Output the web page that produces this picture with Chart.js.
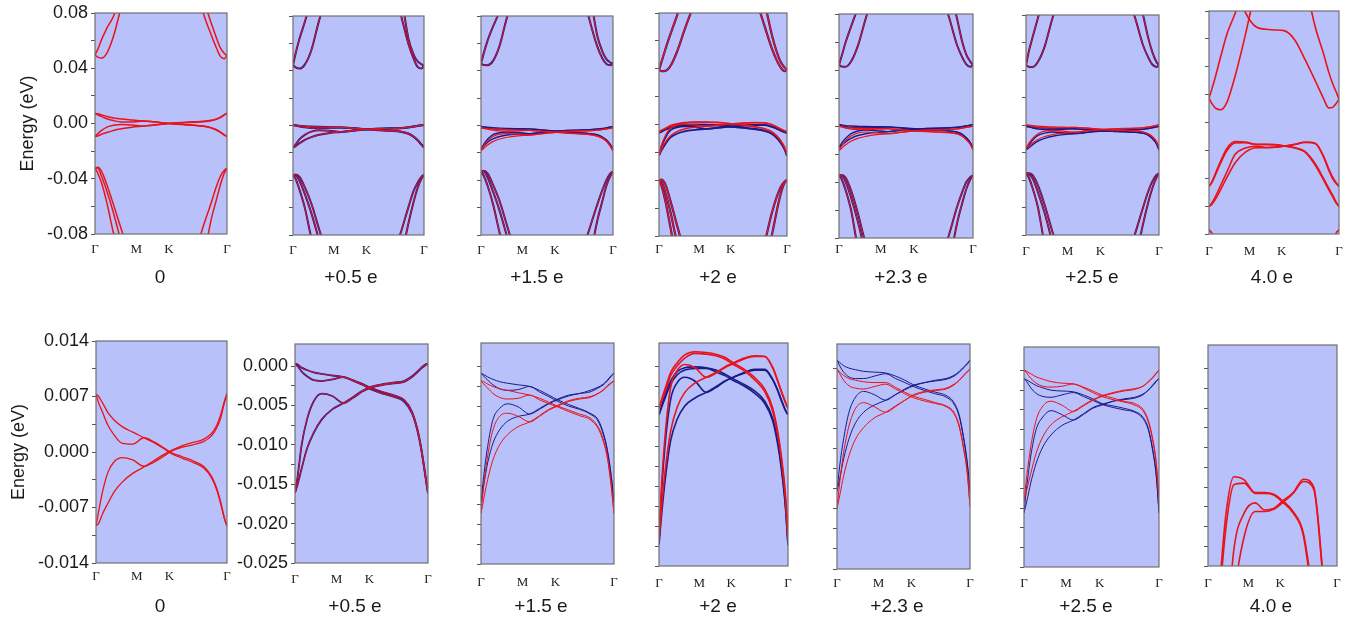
<!DOCTYPE html>
<html>
<head>
<meta charset="utf-8">
<script src="https://cdn.jsdelivr.net/npm/chart.js@4.4.1/dist/chart.umd.min.js"></script>
<style>
  html, body { margin: 0; padding: 0; background: #fff; }
  #wrap { position: relative; width: 1364px; height: 620px; overflow: hidden; }
  #wrap canvas { position: absolute; }
</style>
</head>
<body>
<div id="wrap"></div>
<script>
// k-path samples: Γ = 0, M = 0.366, K = 0.577, Γ = 1
const kPath = [0, 0.02, 0.05, 0.09, 0.14, 0.20, 0.28, 0.366, 0.44, 0.51, 0.577, 0.66, 0.74, 0.82, 0.88, 0.92, 0.95, 0.98, 1.0];
const kLabels = ['Γ', 'M', 'K', 'Γ'];
const kLabelPos = [0, 0.312, 0.56, 1];
const chargeLabels = ['0', '+0.5 e', '+1.5 e', '+2 e', '+2.3 e', '+2.5 e', '4.0 e'];

// band energies in meV, near the Fermi level (used in both rows)
const q0_red = [
  [7.3, 6.2, 5.0, 3.4, 2.1, 1.1, 1.0, 1.8, 1.3, 0.6, -0.1, -0.6, -1.1, -1.8, -3.0, -4.5, -6.2, -8.3, -9.3],
  [7.3, 7.0, 6.2, 5.0, 4.0, 3.2, 2.5, 1.8, 1.2, 0.5, -0.2, -0.8, -1.3, -2.0, -3.2, -4.7, -6.4, -8.4, -9.4],
  [-9.3, -7.5, -5.0, -2.6, -1.2, -0.7, -1.0, -1.8, -1.3, -0.6, 0.1, 0.6, 0.9, 1.3, 2.0, 3.0, 4.2, 6.2, 7.3],
  [-9.3, -9.0, -7.8, -6.5, -5.0, -3.8, -2.7, -1.9, -1.1, -0.4, 0.2, 0.8, 1.2, 1.6, 2.3, 3.3, 4.6, 6.4, 7.4]
];
const q05_bands = [
  [0.3, 0.2, -0.2, -0.5, -0.8, -1.0, -1.2, -1.4, -1.8, -2.3, -2.8, -3.3, -3.7, -4.3, -5.8, -8.0, -10.5, -13.8, -16.1],
  [0.3, 0.0, -0.7, -1.3, -1.8, -1.9, -1.7, -1.4, -1.9, -2.4, -3.0, -3.5, -3.9, -4.5, -6.0, -8.2, -10.7, -14.0, -16.2],
  [-16.1, -14.0, -10.0, -6.8, -4.5, -3.5, -3.8, -4.7, -4.0, -3.2, -2.7, -2.4, -2.2, -2.0, -1.4, -0.8, -0.3, 0.1, 0.3],
  [-16.1, -15.0, -13.0, -10.5, -8.5, -6.8, -5.5, -4.7, -3.9, -3.1, -2.6, -2.3, -2.1, -1.9, -1.3, -0.7, -0.2, 0.2, 0.3]
];
const q15_blue = [
  [-0.8, -1.0, -1.3, -1.6, -1.9, -2.1, -2.3, -2.5, -3.0, -3.6, -4.2, -4.8, -5.3, -5.9, -6.7, -8.4, -10.5, -13.9, -17.2],
  [-0.8, -1.2, -1.7, -2.3, -2.8, -3.0, -2.9, -2.5, -3.2, -3.8, -4.4, -5.0, -5.4, -6.0, -6.9, -8.6, -10.7, -14.1, -17.2],
  [-17.2, -13.9, -10.1, -6.7, -5.3, -4.7, -5.1, -6.0, -5.4, -4.7, -4.2, -3.7, -3.4, -3.2, -2.7, -2.3, -1.8, -1.2, -0.8],
  [-17.2, -15.1, -12.2, -9.7, -8.0, -6.9, -6.3, -6.0, -5.3, -4.6, -4.1, -3.6, -3.4, -3.0, -2.6, -2.2, -1.7, -1.1, -0.8]
];
const q15_red = [
  [-1.8, -1.9, -2.2, -2.5, -2.8, -3.0, -3.3, -3.6, -4.0, -4.5, -5.0, -5.5, -6.0, -6.5, -7.6, -9.2, -11.3, -15.1, -18.6],
  [-1.8, -2.2, -2.7, -3.4, -3.9, -4.1, -4.0, -3.6, -4.2, -4.7, -5.1, -5.7, -6.2, -6.7, -7.8, -9.5, -11.6, -15.3, -18.6],
  [-18.6, -15.1, -11.3, -8.0, -6.3, -5.9, -6.3, -7.0, -6.3, -5.5, -5.0, -4.4, -4.1, -3.9, -3.4, -3.0, -2.5, -2.1, -1.8],
  [-18.6, -16.8, -14.3, -11.8, -9.9, -8.6, -7.6, -7.0, -6.2, -5.4, -4.9, -4.3, -4.0, -3.8, -3.4, -2.9, -2.4, -2.0, -1.8]
];
const q2_red = [
  [-5.2, -4.1, -2.6, -0.7, 0.5, 1.5, 1.9, 1.8, 1.6, 1.2, 0.5, -0.3, -1.3, -2.8, -5.1, -8.1, -11.4, -16.0, -21.5],
  [-5.2, -4.3, -3.0, -1.1, 0.1, 1.1, 1.7, 1.6, 1.4, 1.0, 0.3, -0.5, -1.6, -3.1, -5.5, -8.5, -11.8, -16.5, -21.7],
  [-21.7, -14.8, -8.1, -2.6, -0.5, 0.3, -0.1, -1.3, -0.8, -0.1, 0.4, 1.0, 1.3, 1.3, -0.1, -1.8, -3.2, -4.5, -5.2],
  [-21.7, -17.7, -12.7, -8.1, -5.1, -3.2, -2.0, -1.3, -0.7, 0.0, 0.5, 1.1, 1.4, 1.3, 0.0, -1.7, -3.1, -4.4, -5.2]
];
const q2_blue = [
  [-6.0, -4.9, -3.4, -1.8, -0.6, -0.1, 0.0, -0.1, -0.4, -0.9, -1.5, -2.2, -3.0, -4.3, -6.4, -9.3, -12.7, -17.3, -22.3],
  [-6.0, -5.1, -3.8, -2.2, -1.0, -0.4, -0.2, -0.2, -0.6, -1.1, -1.7, -2.4, -3.3, -4.6, -6.7, -9.7, -13.0, -17.6, -22.4],
  [-22.3, -15.6, -9.3, -4.1, -2.0, -1.3, -1.8, -3.2, -2.6, -1.8, -1.3, -0.8, -0.4, -0.4, -1.6, -3.0, -4.3, -5.5, -6.0],
  [-22.3, -18.6, -13.9, -9.3, -6.6, -4.9, -3.9, -3.2, -2.5, -1.8, -1.3, -0.7, -0.3, -0.3, -1.5, -2.9, -4.2, -5.4, -6.0]
];
const q23_blue = [
  [1.0, 0.7, 0.3, 0.0, -0.2, -0.4, -0.5, -0.6, -1.0, -1.5, -2.1, -2.6, -3.0, -3.4, -4.3, -5.9, -8.4, -11.8, -15.3],
  [1.0, 0.3, -0.5, -1.1, -1.3, -1.3, -1.0, -0.7, -1.3, -1.8, -2.3, -2.8, -3.2, -3.6, -4.5, -6.1, -8.6, -12.0, -15.3],
  [-15.3, -12.2, -8.8, -5.5, -3.6, -2.9, -3.3, -4.0, -3.3, -2.7, -2.2, -1.8, -1.6, -1.4, -1.0, -0.5, 0.0, 0.5, 1.0],
  [-15.3, -13.8, -11.3, -8.8, -6.8, -5.5, -4.6, -4.0, -3.3, -2.6, -2.1, -1.8, -1.5, -1.3, -0.9, -0.4, 0.1, 0.6, 1.0]
];
const q23_red = [
  [-0.1, -0.5, -0.9, -1.3, -1.5, -1.7, -1.8, -1.8, -2.4, -3.0, -3.5, -3.9, -4.3, -4.7, -5.5, -7.2, -9.7, -13.0, -17.2],
  [-0.1, -0.7, -1.5, -2.2, -2.5, -2.6, -2.3, -2.0, -2.6, -3.2, -3.7, -4.1, -4.4, -4.8, -5.7, -7.4, -9.9, -13.2, -17.2],
  [-17.5, -14.3, -10.5, -7.2, -5.0, -4.3, -4.8, -5.5, -4.8, -4.0, -3.4, -3.0, -2.8, -2.6, -2.1, -1.5, -1.0, -0.5, -0.1],
  [-17.5, -15.9, -13.4, -10.9, -8.8, -7.4, -6.2, -5.5, -4.7, -4.0, -3.3, -2.9, -2.7, -2.5, -2.0, -1.5, -0.9, -0.4, -0.1]
];
const q25_red = [
  [0.1, -0.1, -0.4, -0.8, -1.1, -1.4, -1.6, -1.7, -2.1, -2.6, -3.1, -3.5, -3.9, -4.2, -4.9, -6.3, -8.4, -11.8, -16.5],
  [0.1, -0.3, -1.0, -1.6, -2.0, -2.1, -2.0, -1.7, -2.2, -2.8, -3.3, -3.7, -4.0, -4.4, -5.1, -6.5, -8.6, -12.0, -16.5],
  [-16.7, -13.5, -9.7, -6.3, -4.5, -3.9, -4.4, -5.2, -4.5, -3.8, -3.3, -2.9, -2.6, -2.4, -2.0, -1.5, -1.0, -0.4, 0.1],
  [-16.7, -15.2, -13.1, -10.5, -8.4, -6.9, -5.9, -5.2, -4.4, -3.7, -3.2, -2.8, -2.5, -2.3, -2.0, -1.4, -0.9, -0.3, 0.1]
];
const q25_blue = [
  [-1.0, -1.2, -1.5, -1.9, -2.2, -2.5, -2.6, -2.7, -3.1, -3.6, -4.2, -4.5, -4.8, -5.2, -5.9, -7.3, -9.7, -13.3, -18.1],
  [-1.0, -1.4, -2.2, -2.9, -3.3, -3.4, -3.1, -2.8, -3.3, -3.8, -4.3, -4.7, -5.0, -5.3, -6.1, -7.5, -9.9, -13.5, -18.1],
  [-18.1, -14.8, -10.9, -7.5, -5.9, -5.1, -5.6, -6.3, -5.6, -4.8, -4.4, -3.9, -3.7, -3.5, -3.1, -2.5, -2.0, -1.4, -1.0],
  [-18.1, -16.7, -14.3, -11.8, -9.7, -8.2, -7.0, -6.3, -5.5, -4.7, -4.3, -3.9, -3.6, -3.4, -3.0, -2.5, -1.9, -1.3, -1.0]
];
const q4_red = [
  [-45.8, -43.0, -36.5, -27.5, -18.3, -13.7, -14.1, -15.7, -15.7, -15.9, -16.7, -18.1, -20.9, -30.0, -40.0, -47.0, -52.0, -57.5, -60.0],
  [-45.8, -43.5, -37.5, -29.0, -20.0, -14.7, -14.5, -15.8, -15.8, -16.0, -16.9, -18.3, -21.2, -31.0, -41.0, -48.0, -53.0, -58.0, -60.2],
  [-60.0, -58.0, -53.0, -45.0, -35.0, -23.0, -18.3, -17.0, -17.9, -17.7, -16.8, -15.7, -14.0, -15.0, -24.0, -33.0, -39.0, -43.5, -45.8],
  [-60.2, -59.0, -55.0, -48.0, -39.0, -29.0, -21.3, -18.1, -18.1, -17.8, -17.0, -15.8, -14.3, -15.3, -24.5, -34.0, -40.0, -44.0, -45.8]
];

// outer bands in meV (top row only); null = outside the window
const q0_wide = [
  [49.8, 53.5, 60.7, 69.1, 77.6, 95, null, null, null, null, null, null, null, 90, 72.8, 61.9, 54.7, 50.6, 49.1],
  [49.8, 48.1, 47.4, 51.0, 63.1, 85, null, null, null, null, null, null, 110, 80, 64.3, 54.7, 48.6, 46.9, 49.1],
  [-32.2, -35.8, -43.1, -57.5, -79.3, -100, null, null, null, null, null, null, -100, -74.4, -57.5, -45.5, -38.2, -33.9, -32.2],
  [-32.2, -32.2, -38.2, -49.1, -64.8, -86.5, null, null, null, null, null, null, null, -100, -69.6, -55.1, -44.3, -35.8, -32.7],
  [-32.9, -31.7, -34.6, -44.3, -58.7, -76.8, -100, null, null, null, null, null, null, null, null, null, null, null, null]
];
const q05_wide = [
  [44.1, 52.6, 63.5, 75.6, 92, null, null, null, null, null, null, null, null, 100, 64, 52, 47, 44.8, 43.6],
  [44.1, 42.5, 41.6, 44.5, 55, 77, 100, null, null, null, null, null, 110, 82, 60, 49, 43, 41.6, 43.6],
  [-36.1, -39.0, -47.0, -60.0, -82, -100, null, null, null, null, null, null, -100, -79, -60, -48, -42, -37.5, -36.1],
  [-36.1, -36.3, -40.5, -50.0, -64, -84, null, null, null, null, null, null, null, -100, -72, -56, -46, -39, -36.3],
  [-36.5, -35.8, -37.5, -45, -57, -76, -100, null, null, null, null, null, null, null, null, null, null, null, null]
];
const q15_wide = [
  [45.3, 52.5, 62, 72, 83, null, null, null, null, null, null, null, null, 100, 66, 54, 48.5, 46, 45.3],
  [45.3, 44.2, 44.1, 47, 58, 80, 100, null, null, null, null, null, 110, 78, 58, 49, 45, 44.1, 45.3],
  [-33.6, -36.5, -44, -57, -78, -100, null, null, null, null, null, null, -100, -76, -58, -47, -40, -35, -33.6],
  [-33.6, -33.6, -38, -48, -62, -82, null, null, null, null, null, null, null, -100, -70, -55, -44, -37, -33.8],
  [-34, -33, -35, -43, -55, -74, -100, null, null, null, null, null, null, null, null, null, null, null, null]
];
const q2_wide = [
  [39.3, 45, 54, 65, 78, 95, null, null, null, null, null, null, null, 90, 65, 52, 45, 41, 39.3],
  [39.3, 38.3, 38.5, 42, 52, 68, 88, null, null, null, null, null, 95, 72, 55, 46, 41, 38.3, 39.3],
  [-39.8, -44, -55, -74, -100, null, null, null, null, null, null, null, null, -100, -80, -62, -50, -42, -39.8],
  [-39.8, -41, -49, -63, -84, -100, null, null, null, null, null, null, -100, -86, -64, -52, -45, -41, -39.8],
  [-40, -39.5, -43, -55, -72, -92, null, null, null, null, null, null, null, null, null, null, null, null, null]
];
const q23_wide = [
  [43.5, 50, 60, 71, 84, null, null, null, null, null, null, null, null, 100, 77, 60, 51, 46, 43.5],
  [43.5, 42.5, 42.3, 46, 57, 77, 100, null, null, null, null, null, 100, 78, 58, 49, 44, 42.3, 43.5],
  [-35.2, -38, -46, -60, -86, -100, null, null, null, null, null, null, -100, -78, -58, -47, -40, -36.5, -35.2],
  [-35.2, -35.5, -40, -51, -68, -92, null, null, null, null, null, null, null, -100, -70, -55, -45, -38, -35.2],
  [-35.5, -35, -37, -46, -62, -84, -100, null, null, null, null, null, null, null, null, null, null, null, null]
];
const q25_wide = [
  [43.5, 53, 64, 78, 95, null, null, null, null, null, null, null, null, 100, 80, 63, 53, 46, 43.5],
  [43.5, 42.4, 42.2, 46, 57, 78, 100, null, null, null, null, null, 100, 78, 58, 49, 44, 42.2, 43.5],
  [-35.2, -38, -46, -60, -86, -100, null, null, null, null, null, null, -100, -79, -60, -48, -41, -36.5, -35.2],
  [-35.2, -35.5, -39, -49, -64, -86, null, null, null, null, null, null, null, -100, -72, -56, -46, -38.5, -35.2],
  [-35.5, -35, -36.5, -44, -58, -78, -100, null, null, null, null, null, null, null, null, null, null, null, null]
];
const q4_wide = [
  [17.4, 13.9, 10.3, 9.1, 15.0, 33.0, 63, 100, null, null, null, null, null, null, null, null, null, null, null],
  [17.4, 23.4, 33, 47.3, 64, 78, 100, null, null, null, null, null, 100, 67.6, 49.7, 36.5, 28.2, 21.5, 16.7],
  [null, null, null, null, null, 100, 79, 68.3, 66.9, 66.4, 65.9, 59.2, 44.9, 29.4, 17.4, 10.5, 10.8, 13.9, 16.7],
  [-77, -79, -86, -100, null, null, null, null, null, null, null, null, null, null, null, -100, -86, -79, -77]
];

const RED = '#e8131b';
const BLUE = '#1b1b88';
const PANEL_BG = '#b9c1fa';
const FRAME = '#707070';
const SANS = 'Arial, "Liberation Sans", sans-serif';
const SERIF = '"Times New Roman", "Liberation Serif", serif';

function bandSet(list, color, width) {
  return list.map(values => ({ values, color, width }));
}

// listed bottom layer first
const topBands = [
  [...bandSet(q0_red, RED, 1.5), ...bandSet(q0_wide, RED, 1.5)],
  [...bandSet(q05_bands, BLUE, 2), ...bandSet(q05_wide, BLUE, 2), ...bandSet(q05_bands, RED, 1), ...bandSet(q05_wide, RED, 1)],
  [...bandSet(q15_blue, BLUE, 1.4), ...bandSet(q15_wide, BLUE, 2), ...bandSet(q15_red, RED, 1.2), ...bandSet(q15_wide, RED, 1)],
  [...bandSet(q2_blue, BLUE, 1.8), ...bandSet(q2_wide, BLUE, 2.2), ...bandSet(q2_red, RED, 1.4), ...bandSet(q2_wide, RED, 1.3)],
  [...bandSet(q23_blue, BLUE, 1.4), ...bandSet(q23_wide, BLUE, 2), ...bandSet(q23_red, RED, 1.2), ...bandSet(q23_wide, RED, 1)],
  [...bandSet(q25_blue, BLUE, 1.4), ...bandSet(q25_wide, BLUE, 2), ...bandSet(q25_red, RED, 1.2), ...bandSet(q25_wide, RED, 1)],
  [...bandSet(q4_red, RED, 1.6), ...bandSet(q4_wide, RED, 1.6)]
];
const bottomBands = [
  bandSet(q0_red, RED, 1.3),
  [...bandSet(q05_bands, BLUE, 1.8), ...bandSet(q05_bands, RED, 0.9)],
  [...bandSet(q15_blue, BLUE, 1), ...bandSet(q15_red, RED, 1)],
  [...bandSet(q2_blue, BLUE, 1.6), ...bandSet(q2_red, RED, 1.6)],
  [...bandSet(q23_blue, BLUE, 1), ...bandSet(q23_red, RED, 1)],
  [...bandSet(q25_blue, BLUE, 1), ...bandSet(q25_red, RED, 1)],
  bandSet(q4_red, RED, 1.6)
];

// page layout of each plot box
const topLayout = [
  { L: 95, T: 13, R: 227, B: 234, yW: 95, kPad: 0, titleX: 160 },
  { L: 293, T: 16, R: 424, B: 235, yW: 8, kPad: 0, titleX: 351 },
  { L: 481, T: 16, R: 613, B: 235, yW: 8, kPad: 0, titleX: 537 },
  { L: 659, T: 13, R: 787, B: 236, yW: 8, kPad: -2, titleX: 718 },
  { L: 839, T: 14, R: 973, B: 238, yW: 8, kPad: -4, titleX: 901 },
  { L: 1026, T: 15, R: 1159, B: 235, yW: 8, kPad: 1, titleX: 1092 },
  { L: 1209, T: 11, R: 1339, B: 234, yW: 8, kPad: 2, titleX: 1272 }
];
const bottomLayout = [
  { L: 96, T: 341, R: 227, B: 563, yW: 96, kPad: -2, titleX: 160 },
  { L: 295, T: 344, R: 428, B: 563, yW: 64, kPad: 1, titleX: 355 },
  { L: 481, T: 343, R: 614, B: 564, yW: 8, kPad: 3, titleX: 541 },
  { L: 659, T: 343, R: 788, B: 566, yW: 8, kPad: 2, titleX: 718 },
  { L: 837, T: 344, R: 970, B: 569, yW: 8, kPad: -1, titleX: 897 },
  { L: 1024, T: 347, R: 1159, B: 567, yW: 8, kPad: 1, titleX: 1086 },
  { L: 1208, T: 345, R: 1337, B: 566, yW: 8, kPad: 2, titleX: 1271 }
];

const panelFrame = {
  id: 'panelFrame',
  beforeDraw(chart) {
    const a = chart.chartArea, ctx = chart.ctx;
    ctx.save();
    ctx.fillStyle = PANEL_BG;
    ctx.fillRect(a.left, a.top, a.right - a.left, a.bottom - a.top);
    ctx.restore();
  },
  afterDatasetsDraw(chart) {
    const a = chart.chartArea, ctx = chart.ctx;
    ctx.save();
    ctx.strokeStyle = FRAME;
    ctx.lineWidth = 1.2;
    ctx.strokeRect(a.left, a.top, a.right - a.left, a.bottom - a.top);
    ctx.restore();
  },
  afterDraw(chart, args, opts) {
    const ctx = chart.ctx;
    ctx.save();
    ctx.fillStyle = '#1a1a1a';
    ctx.font = '19px ' + SANS;
    ctx.textAlign = 'center';
    ctx.textBaseline = 'middle';
    ctx.fillText(opts.text, opts.x, opts.y);
    ctx.restore();
  }
};

function makePanel(box, bands, axis, title, titleY, bottomEdge) {
  const PAD_T = 14, PAD_R = 10;
  const left = box.L - box.yW;
  const top = box.T - PAD_T;
  const width = box.R - left + PAD_R;
  const height = bottomEdge - top;
  const xH = bottomEdge - box.B;

  const canvas = document.createElement('canvas');
  canvas.width = width;
  canvas.height = height;
  canvas.style.left = left + 'px';
  canvas.style.top = top + 'px';
  canvas.style.width = width + 'px';
  canvas.style.height = height + 'px';
  document.getElementById('wrap').appendChild(canvas);

  // Chart.js paints the first dataset last, so reverse to keep red over blue
  const datasets = bands.slice().reverse().map(b => ({
    data: kPath.map((k, i) => ({ x: k, y: b.values[i] })),
    borderColor: b.color,
    borderWidth: b.width,
    pointRadius: 0,
    fill: false,
    spanGaps: false,
    cubicInterpolationMode: 'monotone',
    clip: 0
  }));

  const isMajor = v => Math.abs(v / axis.major - Math.round(v / axis.major)) < 1e-6;

  new Chart(canvas, {
    type: 'line',
    data: { datasets },
    options: {
      responsive: false,
      animation: false,
      devicePixelRatio: 1,
      layout: { padding: { top: PAD_T, right: PAD_R, left: 0, bottom: 0 } },
      plugins: {
        legend: { display: false },
        tooltip: { enabled: false },
        panelFrame: { text: title, x: box.titleX - left, y: titleY - top }
      },
      scales: {
        x: {
          type: 'linear',
          min: 0,
          max: 1,
          afterFit: s => { s.height = xH; },
          afterBuildTicks: s => { s.ticks = kLabelPos.map(v => ({ value: v })); },
          grid: { display: false },
          border: { display: false },
          ticks: {
            autoSkip: false,
            maxRotation: 0,
            padding: box.kPad,
            color: '#222',
            font: { family: SERIF, size: 13 },
            callback: (v, i) => kLabels[i]
          }
        },
        y: {
          min: axis.min,
          max: axis.max,
          afterFit: s => { s.width = box.yW; },
          afterBuildTicks: s => {
            s.ticks = s.ticks.filter(t => Math.abs(t.value / axis.step - Math.round(t.value / axis.step)) < 1e-6);
          },
          grid: { drawOnChartArea: false, drawTicks: true, tickLength: 4, color: '#555' },
          border: { display: false },
          ticks: {
            stepSize: axis.step,
            autoSkip: false,
            padding: 3,
            color: '#1a1a1a',
            font: { family: SANS, size: axis.fontSize },
            callback: v => (axis.labels && isMajor(v)) ? (v / 1000).toFixed(axis.decimals) : ''
          },
          title: {
            display: !!axis.yTitle,
            text: 'Energy (eV)',
            color: '#1a1a1a',
            font: { family: SANS, size: 18 },
            padding: { top: axis.yTitlePad || 0, bottom: 0 }
          }
        }
      }
    },
    plugins: [panelFrame]
  });
}

topLayout.forEach((box, i) => {
  const axis = {
    min: -80, max: 80, step: 20, major: 40, decimals: 2, fontSize: 18,
    labels: i === 0, yTitle: i === 0, yTitlePad: 17
  };
  makePanel(box, topBands[i], axis, chargeLabels[i], 277.5, 300);
});

bottomLayout.forEach((box, i) => {
  let axis;
  if (i === 0) {
    axis = { min: -14, max: 14, step: 3.5, major: 7, decimals: 3, fontSize: 18, labels: true, yTitle: true, yTitlePad: 8 };
  } else {
    axis = { min: -25, max: i === 1 ? 2.8 : 3, step: 2.5, major: 5, decimals: 3, fontSize: 18, labels: i === 1, yTitle: false };
  }
  makePanel(box, bottomBands[i], axis, chargeLabels[i], 607, 620);
});
</script>
</body>
</html>
